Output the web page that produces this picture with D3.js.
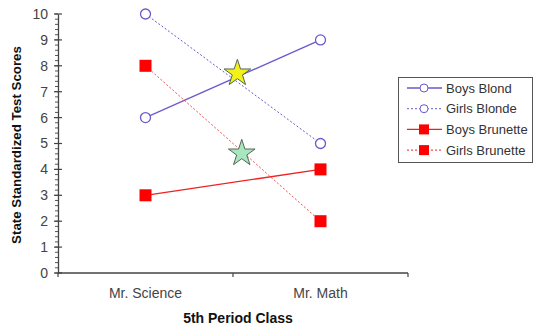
<!DOCTYPE html>
<html><head><meta charset="utf-8">
<script src="https://cdn.jsdelivr.net/npm/d3@7"></script>
<style>body{margin:0;background:#fff;font-family:"Liberation Sans",Arial,sans-serif;}</style>
</head><body><svg id="c" width="534" height="327"></svg>
<script>
const categories = ["Mr. Science", "Mr. Math"];
const boysBlond = [6, 9];
const girlsBlonde = [10, 5];
const boysBrunette = [3, 4];
const girlsBrunette = [8, 2];
const seriesNames = ["Boys Blond", "Girls Blonde", "Boys Brunette", "Girls Brunette"];
const yTicks = [0,1,2,3,4,5,6,7,8,9,10];
const stars = [{pos: 0.525, value: 7.71, fill: "#f2f21a"}, {pos: 0.55, value: 4.62, fill: "#a8e6c0"}];

const svg = d3.select("#c");
const x0 = 58, x1 = 408, yTop = 14, yBot = 273;
const x = d3.scalePoint().domain(categories).range([x0, x1]).padding(0.5);
const y = d3.scaleLinear().domain([0, 10]).range([yBot, yTop]);
const blue = "#6a5acd", red = "#ee2222";

// minor ticks
const minor = d3.range(0, 10.001, 0.2);
svg.append("g").selectAll("line").data(minor).join("line")
  .attr("x1", x0 - 3).attr("x2", x0).attr("y1", d => y(d)).attr("y2", d => y(d))
  .attr("stroke", "#555").attr("stroke-width", 1);

const yAxis = d3.axisLeft(y).tickValues(yTicks).tickSizeInner(0).tickSizeOuter(0).tickPadding(10);
const ga = svg.append("g").attr("transform", `translate(${x0},0)`).call(yAxis);
ga.select(".domain").attr("stroke", "#444").attr("stroke-width", 1.3);
ga.selectAll("text").attr("font-size", 14).attr("fill", "#444").attr("font-family", "Liberation Sans, Arial");
svg.append("g").selectAll("line").data(yTicks).join("line")
  .attr("x1", x0 - 4).attr("x2", x0 + 4).attr("y1", d => y(d)).attr("y2", d => y(d))
  .attr("stroke", "#444").attr("stroke-width", 1.2);

// x axis
svg.append("line").attr("x1", x0).attr("x2", x1).attr("y1", yBot).attr("y2", yBot).attr("stroke", "#444").attr("stroke-width", 1.3);
const mid = (x(categories[0]) + x(categories[1])) / 2;
[x0, mid, x1].forEach(v => svg.append("line").attr("x1", v).attr("x2", v).attr("y1", yBot).attr("y2", yBot + 4).attr("stroke", "#444").attr("stroke-width", 1.2));
svg.append("g").selectAll("text").data(categories).join("text")
  .attr("x", d => x(d)).attr("y", yBot + 25).attr("text-anchor", "middle")
  .attr("font-size", 14).attr("fill", "#444").text(d => d);

svg.append("text").attr("x", 238).attr("y", 323).attr("text-anchor", "middle")
  .attr("font-size", 14).attr("font-weight", "bold").attr("fill", "#111").text("5th Period Class");
svg.append("text").attr("transform", "translate(21,145) rotate(-90)").attr("text-anchor", "middle")
  .attr("font-size", 13.3).attr("font-weight", "bold").attr("fill", "#111").text("State Standardized Test Scores");

const series = [
  {vals: boysBlond, color: blue, dash: null, marker: "circle"},
  {vals: girlsBlonde, color: blue, dash: "2,2", marker: "circle"},
  {vals: boysBrunette, color: red, dash: null, marker: "square"},
  {vals: girlsBrunette, color: red, dash: "2,2", marker: "square"}
];
const line = d3.line().x((d, i) => x(categories[i])).y(d => y(d));
series.forEach(s => {
  svg.append("path").datum(s.vals).attr("d", line).attr("fill", "none")
    .attr("stroke", s.color).attr("stroke-width", s.dash ? 1 : 1.3).attr("stroke-dasharray", s.dash)
    .attr("opacity", s.marker === "square" && s.dash ? 0.8 : 1);
});
function drawMarker(g, s, cx, cy) {
  if (s.marker === "circle") g.append("circle").attr("cx", cx).attr("cy", cy).attr("r", 5).attr("fill", "#fff").attr("stroke", s.color).attr("stroke-width", 1.3);
  else g.append("rect").attr("x", cx - 6).attr("y", cy - 6).attr("width", 12).attr("height", 12).attr("fill", "#ff0000");
}
series.forEach(s => s.vals.forEach((v, i) => drawMarker(svg, s, x(categories[i]), y(v))));

// stars
const starPath = d3.symbol().type(d3.symbolStar).size(220);
stars.forEach(st => {
  const sx = x(categories[0]) + st.pos * (x(categories[1]) - x(categories[0]));
  svg.append("path").attr("d", starPath()).attr("transform", `translate(${sx},${y(st.value)})`)
    .attr("fill", st.fill).attr("stroke", "#556655").attr("stroke-width", 1);
});

// legend
const lg = svg.append("g");
lg.append("rect").attr("x", 398.5).attr("y", 77.5).attr("width", 134).attr("height", 85).attr("fill", "#fff").attr("stroke", "#555");
series.forEach((s, i) => {
  const ly = 88 + i * 20.7;
  lg.append("line").attr("x1", 407).attr("x2", 442).attr("y1", ly).attr("y2", ly)
    .attr("stroke", s.color).attr("stroke-width", s.dash ? 1 : 1.3).attr("stroke-dasharray", s.dash);
  if (s.marker === "circle") lg.append("circle").attr("cx", 424).attr("cy", ly).attr("r", 4).attr("fill", "#fff").attr("stroke", s.color);
  else lg.append("rect").attr("x", 419).attr("y", ly - 5).attr("width", 10).attr("height", 10).attr("fill", "#ff0000");
  lg.append("text").attr("x", 446).attr("y", ly + 4.5).attr("font-size", 13).attr("fill", "#333").text(seriesNames[i]);
});
</script></body></html>
